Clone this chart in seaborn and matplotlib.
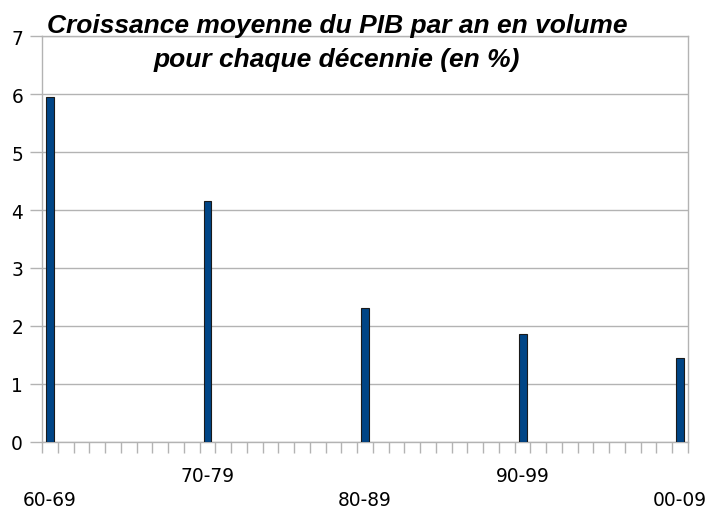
import numpy as np
import pandas as pd
import matplotlib
matplotlib.use("Agg")
import matplotlib.pyplot as plt
import matplotlib.transforms as mtransforms
import seaborn as sns

# Data
decades = ["60-69", "70-79", "80-89", "90-99", "00-09"]
growth = [5.95, 4.15, 2.31, 1.86, 1.44]
title_lines = ["Croissance moyenne du PIB par an en volume",
               "pour chaque décennie (en %)"]
y_ticks = [0, 1, 2, 3, 4, 5, 6, 7]
slots_per_decade = 10

# 41 category slots (one per year), decades at every 10th slot
n_slots = slots_per_decade * (len(decades) - 1) + 1
order = []
for i in range(n_slots):
    if i % slots_per_decade == 0:
        order.append(decades[i // slots_per_decade])
    else:
        order.append(f"_slot{i}")
df = pd.DataFrame({"decade": decades, "growth": growth})

sns.set_style("white")
plt.rcParams['font.family'] = ['DejaVu Sans']
plt.rcParams['text.color'] = 'black'
plt.rcParams['xtick.labelcolor'] = 'black'
plt.rcParams['ytick.labelcolor'] = 'black'

fig = plt.figure(figsize=(7.06, 5.10), dpi=100)
ax = fig.add_axes([42 / 706, 67 / 510, (688 - 42) / 706, (443 - 37) / 510])

sns.barplot(data=df, x="decade", y="growth", order=order, ax=ax,
            color="#004586", saturation=1, width=0.5,
            edgecolor="#1a1a1a", linewidth=0.8, zorder=3)

grey = "#b3b3b3"
ax.set_xlim(-0.5, n_slots - 0.5)
ax.set_ylim(0, 7)
ax.set_yticks(y_ticks)
ax.set_yticklabels([str(v) for v in y_ticks], fontsize=13.4, color="black")
ax.yaxis.grid(True, color=grey, linewidth=1, zorder=0)
ax.xaxis.grid(False)
ax.tick_params(axis="y", length=8.4, width=1, color=grey, pad=5.2,
               labelcolor="black", left=True)

# x axis: minor ticks on category boundaries, no major tick marks
ax.set_xticks(np.arange(-0.5, n_slots, 1.0), minor=True)
ax.set_xticks([])
ax.tick_params(axis="x", which="minor", length=7.7, width=1, color=grey,
               direction="out", bottom=True)
ax.set_xlabel("")
ax.set_ylabel("")

for s in ax.spines.values():
    s.set_color(grey)
    s.set_linewidth(1)

# staggered decade labels
xt = ax.get_xaxis_transform()
for k, lab in enumerate(decades):
    pos = order.index(lab)
    off = -28.4 if k % 2 == 1 else -45.6
    tr = mtransforms.offset_copy(xt, fig=fig, x=0, y=off, units="points")
    ax.text(pos, 0, lab, transform=tr, ha="center", va="baseline",
            fontsize=13.4, color="black")

# title
for line, ybase in zip(title_lines, [33.3, 66.5]):
    fig.text(337 / 706, 1 - ybase / 510, line, ha="center", va="baseline",
             fontsize=19, fontweight="bold", fontstyle="italic", color="black",
             family=["Liberation Sans", "DejaVu Sans"])

fig.savefig("out.png", dpi=100)
